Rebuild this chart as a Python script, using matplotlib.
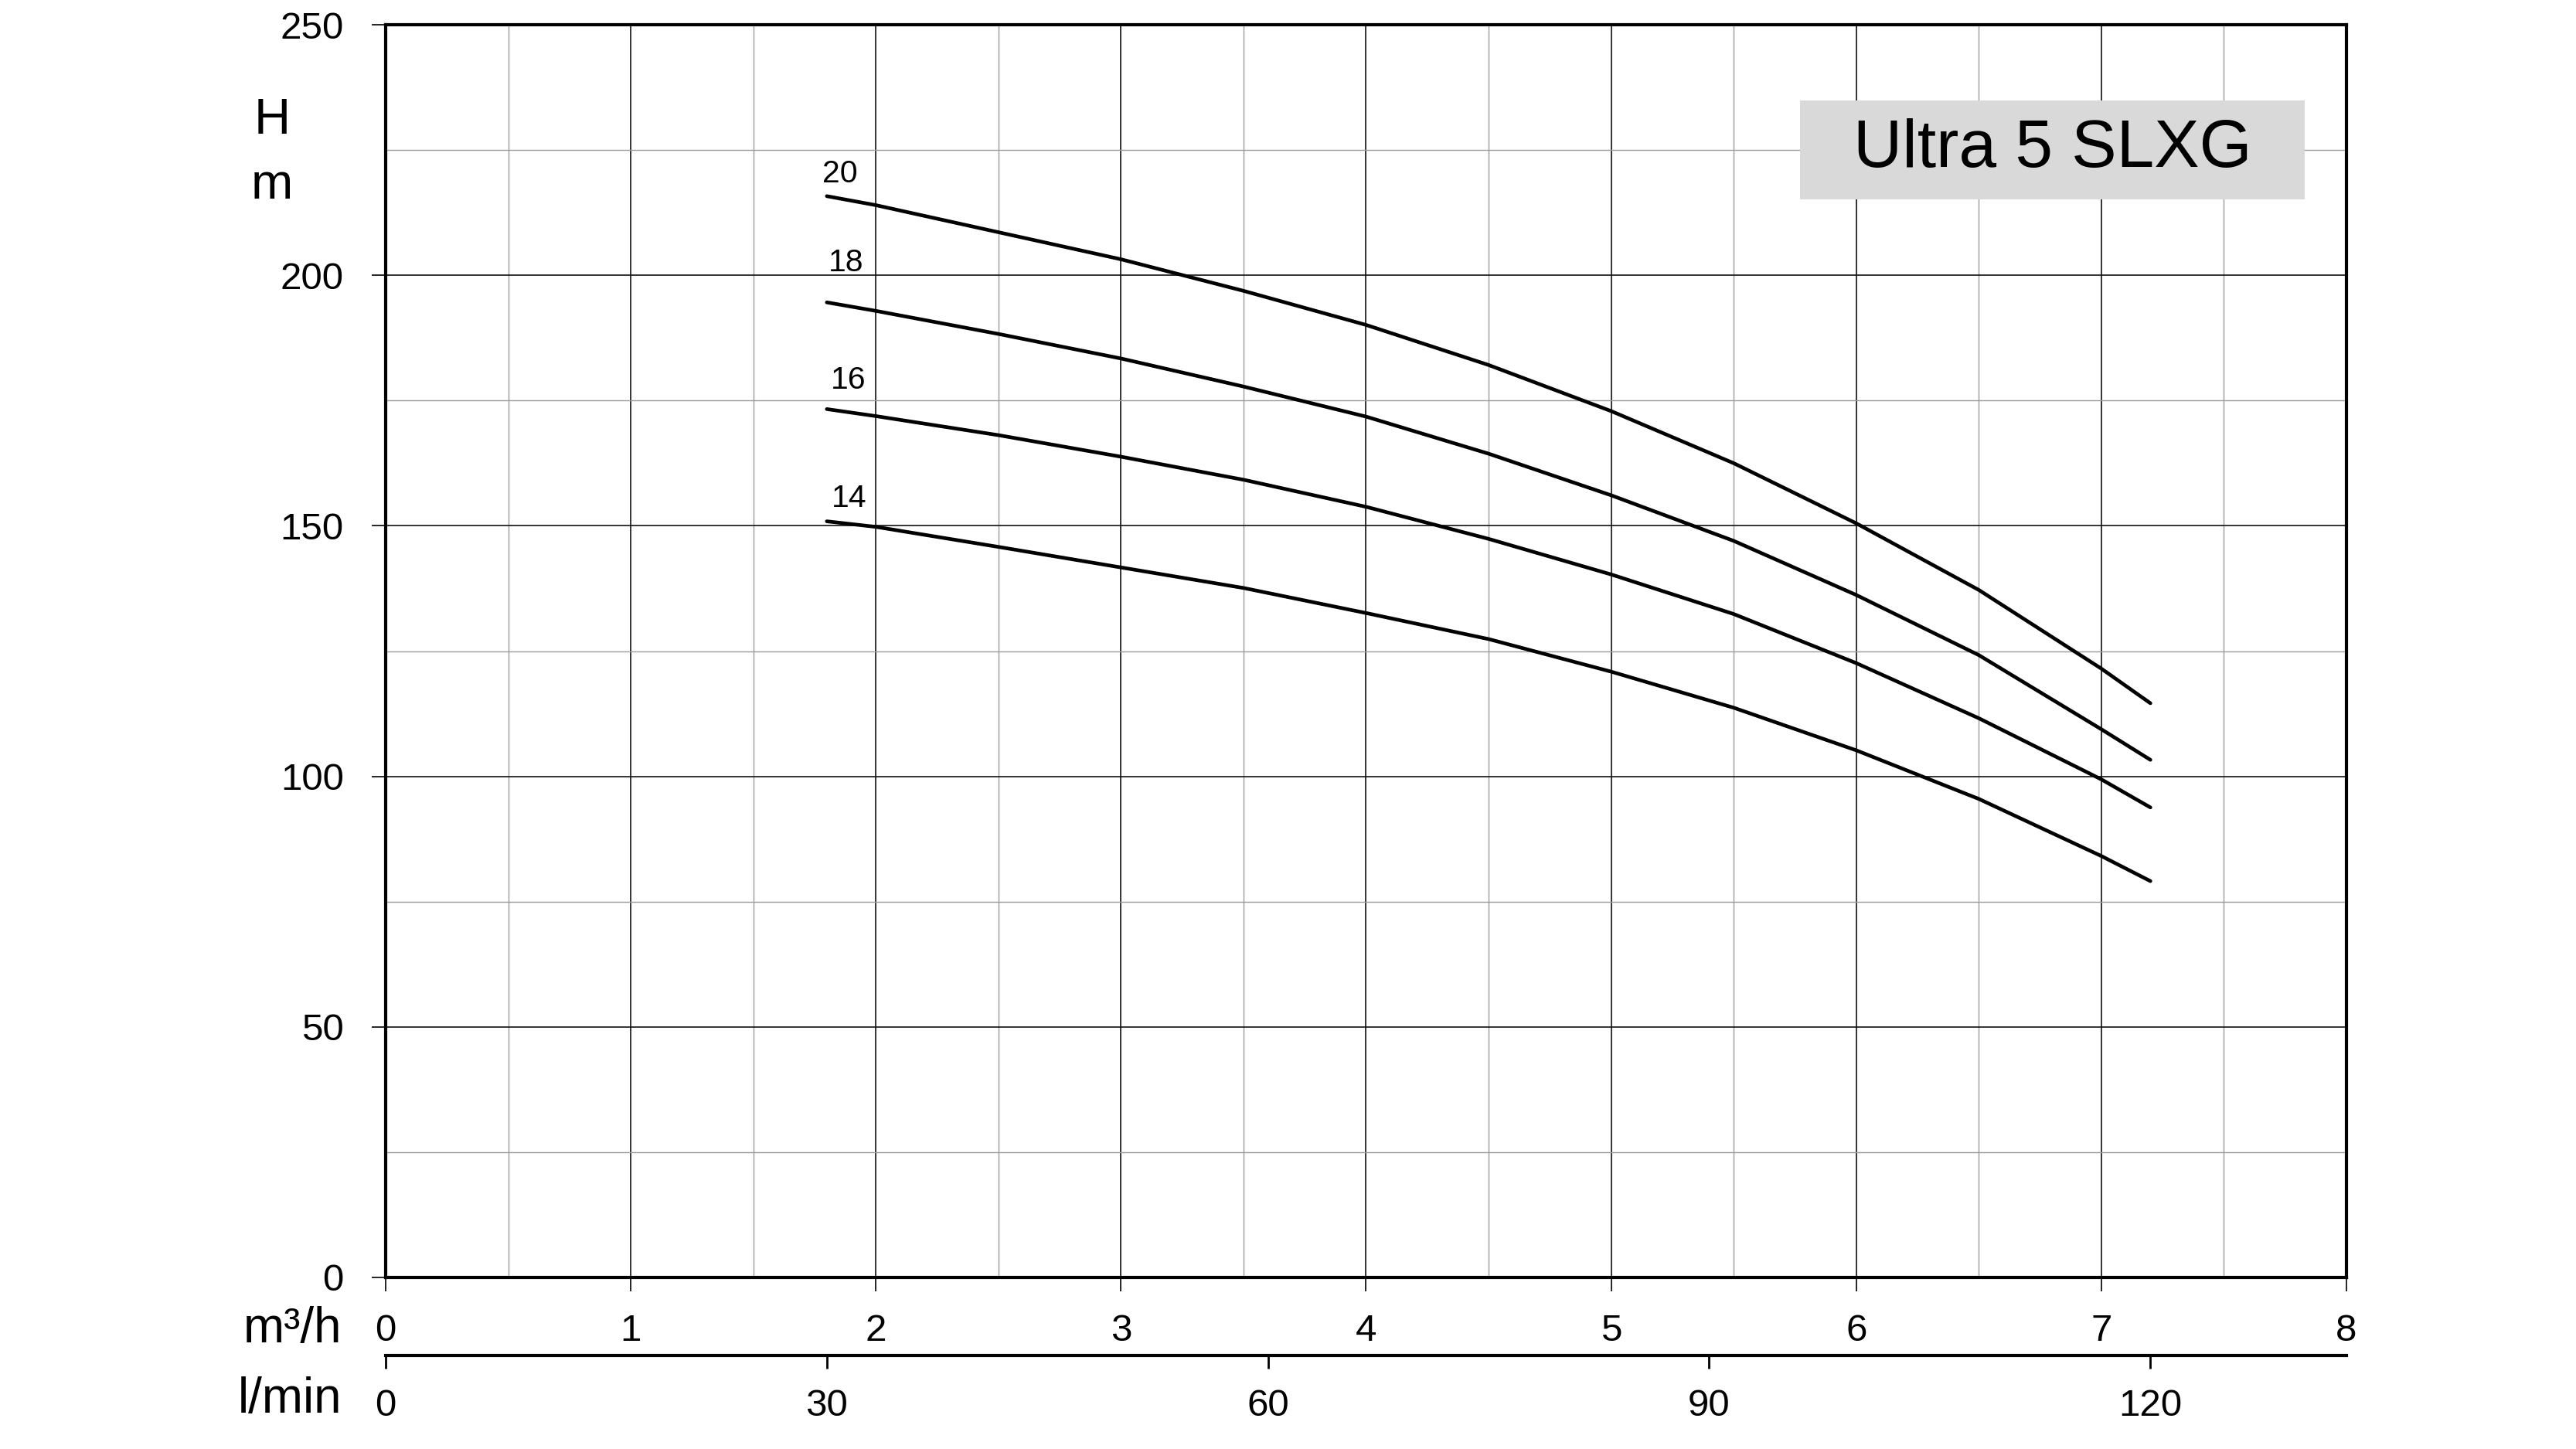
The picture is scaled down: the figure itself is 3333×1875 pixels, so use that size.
import matplotlib
matplotlib.use('Agg')
import matplotlib.pyplot as plt
from matplotlib.patches import Rectangle
from matplotlib.ticker import MultipleLocator

plt.rcParams['font.family'] = ['Liberation Sans', 'DejaVu Sans']

# flow (m3/h) and head (m)
q = [1.8, 2.0, 2.5, 3.0, 3.5, 4.0, 4.5, 5.0, 5.5, 6.0, 6.5, 7.0, 7.2]
h20 = [215.8, 214.0, 208.6, 203.2, 196.9, 190.1, 182.1, 172.9, 162.5, 150.5, 137.2, 121.5, 114.6]
h18 = [194.6, 192.9, 188.3, 183.4, 177.8, 171.8, 164.4, 156.1, 147.0, 136.2, 124.2, 109.4, 103.3]
h16 = [173.3, 171.9, 168.1, 163.8, 159.2, 153.8, 147.4, 140.3, 132.4, 122.6, 111.6, 99.4, 93.8]
h14 = [150.9, 149.8, 145.8, 141.7, 137.6, 132.6, 127.4, 120.9, 113.7, 105.2, 95.5, 84.1, 79.1]
stages = ['20', '18', '16', '14']
curves = [h20, h18, h16, h14]
lmin_ticks = [0, 30, 60, 90, 120]

fig = plt.figure(figsize=(33.33, 18.75), dpi=100)
ax = fig.add_axes([0.1497, 0.1184, 0.7612, 0.8645])

ax.set_xlim(0, 8)
ax.set_ylim(0, 250)
ax.xaxis.set_major_locator(MultipleLocator(1))
ax.xaxis.set_minor_locator(MultipleLocator(0.5))
ax.yaxis.set_major_locator(MultipleLocator(50))
ax.yaxis.set_minor_locator(MultipleLocator(25))

ax.grid(which='major', color='#111111', linewidth=1.2, zorder=0)
ax.grid(which='minor', color='#9a9a9a', linewidth=1.0, zorder=0)
ax.set_axisbelow(True)

ax.tick_params(which='major', direction='out', length=13, width=1.2,
               labelsize=35.5, pad=26)
ax.tick_params(axis='x', pad=21)
ax.tick_params(which='minor', length=0)
for s in ax.spines.values():
    s.set_linewidth(3)

# label offsets in points (dx, dy) from the curve start
offsets = [(12, 21), (18, 37), (20, 27), (21, 21)]
for name, h, (dx, dy) in zip(stages, curves, offsets):
    ax.plot(q, h, color='black', linewidth=3.4, solid_capstyle='round', zorder=3)
    ax.annotate(name, xy=(q[0], h[0]), xytext=(dx, dy), textcoords='offset points',
                ha='center', va='center', fontsize=29.5)

# second flow scale in l/min
sec = ax.secondary_xaxis(-0.0623, functions=(lambda x: x * 1000 / 60, lambda l: l * 60 / 1000))
sec.set_xticks(lmin_ticks)
sec.tick_params(direction='out', length=12, width=2, labelsize=35.5, pad=19)
sec.spines['bottom'].set_linewidth(3)

# model name box
ax.add_patch(Rectangle((0.7213, 0.8606), 0.2576, 0.0789, transform=ax.transAxes,
                       facecolor='#d9d9d9', edgecolor='none', zorder=4))
ax.text(0.8502, 0.9001, 'Ultra 5 SLXG', transform=ax.transAxes, ha='center', va='center',
        fontsize=63, zorder=5)

fig.text(0.1056, 0.9168, 'H', ha='center', va='center', fontsize=47)
fig.text(0.1056, 0.872, 'm', ha='center', va='center', fontsize=47)
fig.text(0.1326, 0.0827, 'm³/h', ha='right', va='center', fontsize=46)
fig.text(0.1326, 0.0343, 'l/min', ha='right', va='center', fontsize=46)

fig.savefig('out.png', dpi=100)
